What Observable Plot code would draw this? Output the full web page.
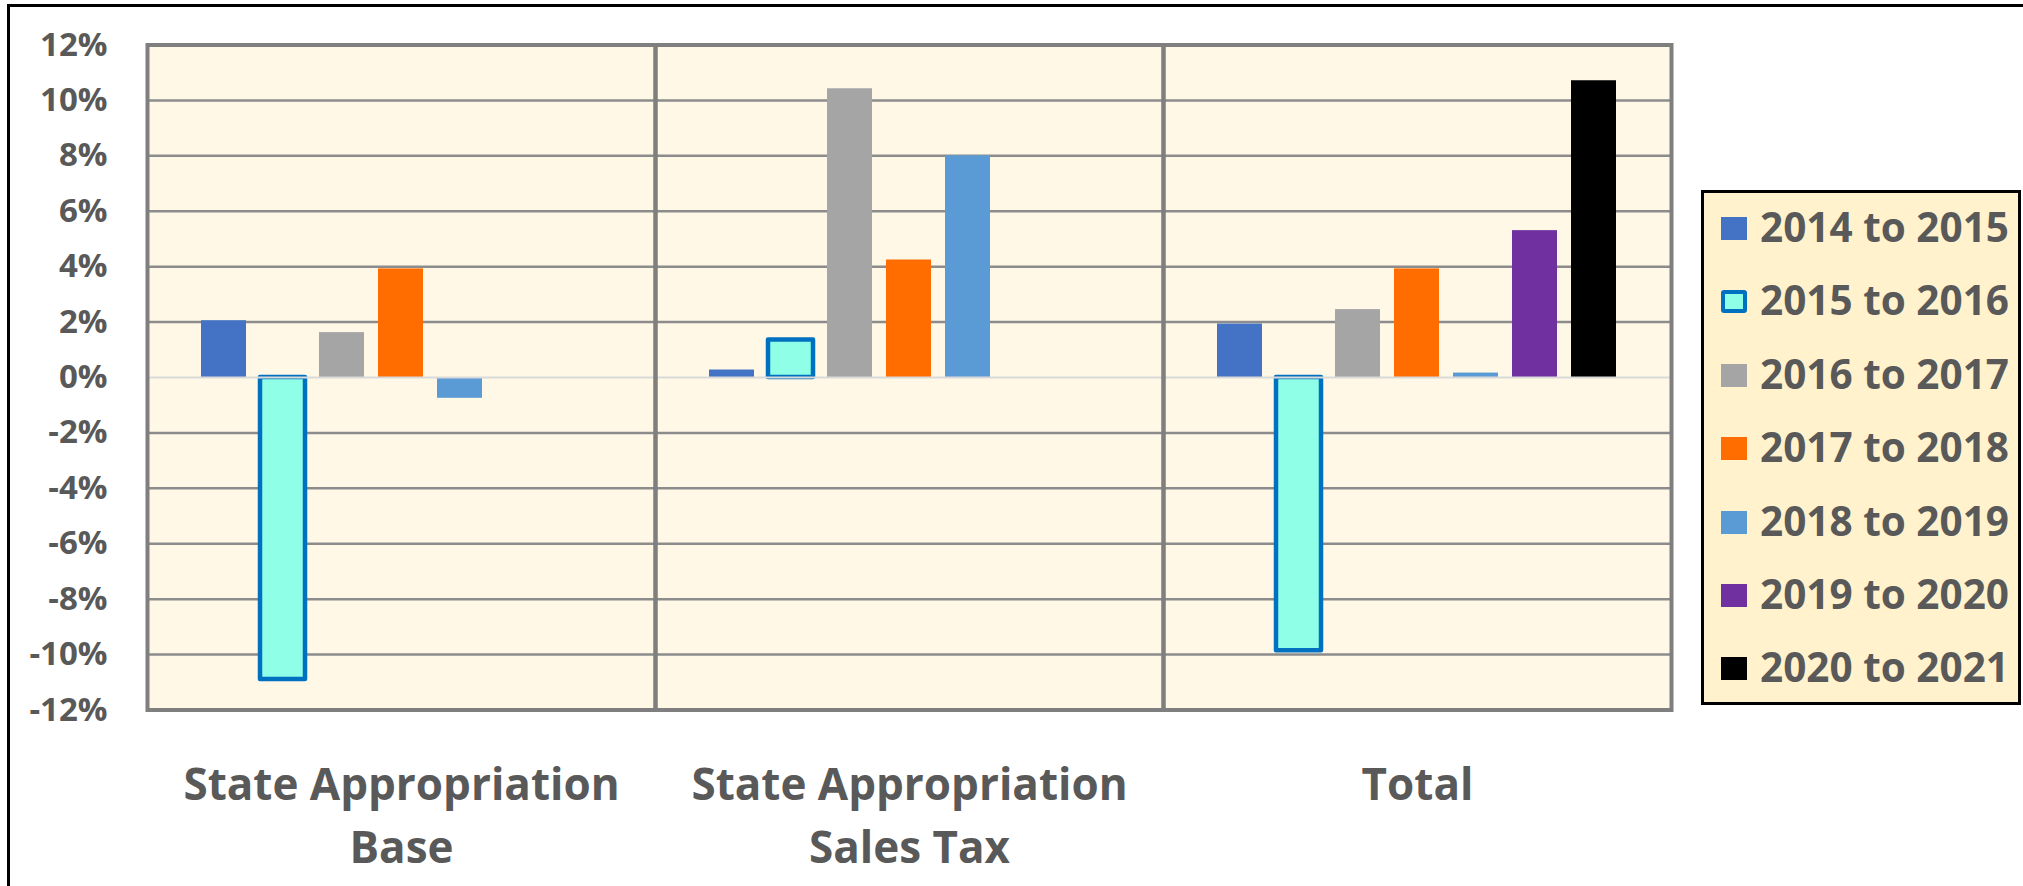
<!DOCTYPE html>
<html>
<head>
<meta charset="utf-8">
<script src="https://cdn.jsdelivr.net/npm/d3@7"></script>
<script src="https://cdn.jsdelivr.net/npm/@observablehq/plot@0.6"></script>
<style>
  html, body { margin: 0; padding: 0; background: #ffffff; }
  #chart {
    position: relative; width: 2023px; height: 886px; overflow: hidden;
    background: #ffffff; font-family: "Open Sans", "Liberation Sans", sans-serif;
  }
  #chart svg { position: absolute; left: 0; top: 0; }
  #chart svg text { font-weight: 700; fill: #595959; font-family: "Open Sans", "Liberation Sans", sans-serif; }
  #outline {
    position: absolute; left: 7px; top: 4px; width: 2100px; height: 1000px;
    border: 3px solid #000; pointer-events: none; box-sizing: border-box;
  }
  #legend {
    position: absolute; left: 1701px; top: 190px; width: 320px; height: 515px;
    box-sizing: border-box; background: #FFF2CC; border: 3px solid #000;
  }
  .entry { position: absolute; left: 0; height: 40px; }
  .swatch { position: absolute; left: 17px; width: 26px; height: 23px; box-sizing: border-box; }
  .entry span {
    position: absolute; left: 56px; white-space: nowrap;
    font-size: 40.5px; font-weight: 700; color: #595959; line-height: 1;
  }
</style>
</head>
<body>
<div id="chart">
  <div id="legend"></div>
  <div id="outline"></div>
</div>
<script>
// Categories along the horizontal axis, with their two-line tick labels
const categories = ["State Appropriation Base", "State Appropriation Sales Tax", "Total"];
const categoryLabels = ["State Appropriation\nBase", "State Appropriation\nSales Tax", "Total"];

// Year-over-year change series and their colours
const series = ["2014 to 2015", "2015 to 2016", "2016 to 2017", "2017 to 2018", "2018 to 2019", "2019 to 2020", "2020 to 2021"];
const seriesColors = ["#4472C4", "#8FFFE8", "#A5A5A5", "#FF6C00", "#5B9BD5", "#7030A0", "#000000"];
const outlinedSeries = "2015 to 2016";
const outlineColor = "#0070C0";

// Percent change per series (null = no value reported)
const baseValues     = [0.0205, -0.1090, 0.0162, 0.0392, -0.0075, null,   null];
const salesTaxValues = [0.0027,  0.0135, 0.1042, 0.0424,  0.0800, null,   null];
const totalValues    = [0.0193, -0.0986, 0.0245, 0.0392,  0.0016, 0.0530, 0.1071];

// Y axis ticks
const yTicks = [-0.12, -0.10, -0.08, -0.06, -0.04, -0.02, 0, 0.02, 0.04, 0.06, 0.08, 0.10, 0.12];

const valuesByCategory = [baseValues, salesTaxValues, totalValues];
const rows = [];
categories.forEach((c, ci) => {
  series.forEach((s, si) => {
    const v = valuesByCategory[ci][si];
    if (v != null) rows.push({category: c, series: s, value: v});
  });
});
const plainRows = rows.filter(d => d.series !== outlinedSeries);
const outlinedRows = rows.filter(d => d.series === outlinedSeries);
const labelOf = new Map(categories.map((c, i) => [c, categoryLabels[i]]));

const plot = Plot.plot({
  width: 1690,
  height: 886,
  marginLeft: 146,
  marginRight: 19,
  marginTop: 44.5,
  marginBottom: 176.5,
  style: {background: "transparent", color: "#595959"},
  fx: {domain: categories, padding: 0, label: null},
  x: {domain: series, paddingInner: 0.233, paddingOuter: 0.858, axis: null},
  y: {domain: [-0.12, 0.12], label: null},
  color: {domain: series, range: seriesColors},
  marks: [
    Plot.frame({fill: "#FFF8E7", stroke: null}),
    Plot.ruleY(yTicks.filter(t => t !== 0), {stroke: "#8C8C8C", strokeWidth: 2.5}),
    Plot.barY(plainRows, {fx: "category", x: "series", y: "value", fill: "series"}),
    Plot.barY(outlinedRows, {
      fx: "category", x: "series", y: "value", fill: "series",
      stroke: outlineColor, strokeWidth: 4.5, strokeLinejoin: "round"
    }),
    Plot.ruleY([0], {stroke: "#D9D9D9", strokeWidth: 2}),
    Plot.frame({stroke: "#7F7F7F", strokeWidth: 4}),
    Plot.axisY({
      ticks: yTicks, tickSize: 0, tickPadding: 40, fontSize: 33,
      tickFormat: d => `${Math.round(d * 100)}%`, label: null
    }),
    Plot.axisFx({
      anchor: "bottom", tickSize: 0, tickPadding: 45, fontSize: 44,
      lineHeight: 63 / 44, tickFormat: d => labelOf.get(d), label: null
    })
  ]
});
document.getElementById("chart").prepend(plot);

// Legend built from the same series and colours
const legend = document.getElementById("legend");
series.forEach((s, i) => {
  const entry = document.createElement("div");
  entry.className = "entry";
  entry.style.top = (14 + i * 73.4) + "px";
  const sw = document.createElement("div");
  sw.className = "swatch";
  sw.style.top = "10px";
  sw.style.background = seriesColors[i];
  if (s === outlinedSeries) {
    sw.style.border = `4px solid ${outlineColor}`;
    sw.style.borderRadius = "3px";
  }
  const label = document.createElement("span");
  label.textContent = s;
  label.style.top = "0px";
  entry.appendChild(sw);
  entry.appendChild(label);
  legend.appendChild(entry);
});
</script>
</body>
</html>
